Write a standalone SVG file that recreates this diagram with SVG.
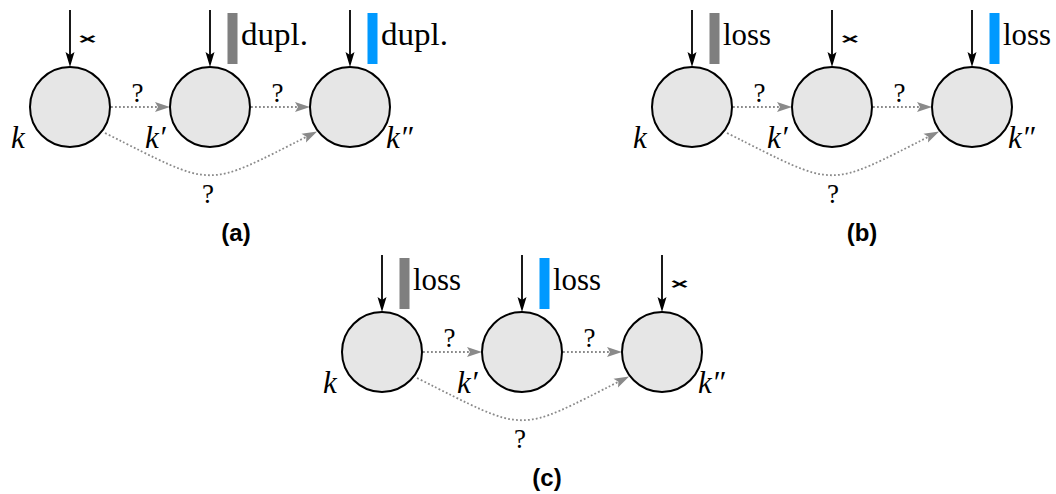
<svg xmlns="http://www.w3.org/2000/svg" width="1056" height="494" viewBox="0 0 1056 494">
  <style>
    .state circle { fill: #e6e6e6; stroke: #000; stroke-width: 2; }
    .name { font-family: "Liberation Serif", serif; font-style: italic; font-size: 31px; }
    .tag { font-family: "Liberation Serif", serif; font-size: 31px; }
    .q { font-family: "Liberation Serif", serif; font-size: 27px; text-anchor: middle; }
    .none { font-family: "Liberation Sans", Arial, sans-serif; font-weight: bold; font-size: 21px; text-anchor: middle; }
    .cap { font-family: "Liberation Sans", Arial, sans-serif; font-weight: bold; font-size: 24px; text-anchor: middle; }
    .in { stroke: #000; stroke-width: 1.8; fill: none; marker-end: url(#head-black); }
    .maybe { stroke: #8a8a8a; stroke-width: 1.8; stroke-dasharray: 1.8 2.2; fill: none; marker-end: url(#head-gray); }
    .bar-gray { fill: #7f7f7f; }
    .bar-blue { fill: #0099ff; }
  </style>
  <defs>
    <marker id="head-black" markerUnits="userSpaceOnUse" viewBox="-8 -6 17 12" refX="0" refY="0" markerWidth="17" markerHeight="12" orient="auto">
      <path d="M-7,-4.5 L8,0 L-7,4.5 L-4,0 Z" fill="#000"/>
    </marker>
    <marker id="head-gray" markerUnits="userSpaceOnUse" viewBox="-8 -6 17 12" refX="0" refY="0" markerWidth="17" markerHeight="12" orient="auto">
      <path d="M-7,-5 L8,0 L-7,5 L-4,0 Z" fill="#8a8a8a"/>
    </marker>
  </defs>

  <!-- (a): duplication on k' and k'' -->
  <g id="panel-a">
    <g id="a-connectors">
      <path class="maybe" d="M111,107 L162,107"/>
      <path class="maybe" d="M251,107 L302,107"/>
      <path class="maybe" d="M105,133 C217,189 203,189 310,135"/>
      <text class="q" x="137.5" y="102">?</text>
      <text class="q" x="277.5" y="102">?</text>
      <text class="q" x="208" y="203">?</text>
    </g>
    <g id="a-k" class="state">
      <path class="in" d="M70,10 L70,59"/>
      <text class="none" transform="translate(87.5,43.5) scale(1.5,0.72)">×</text>
      <circle cx="70" cy="107" r="40"/>
      <text class="name" x="11" y="148">k</text>
    </g>
    <g id="a-k1" class="state">
      <path class="in" d="M210,10 L210,59"/>
      <rect class="bar-gray" x="227.5" y="13" width="10" height="51"/>
      <text class="tag" x="241" y="45" textLength="67" lengthAdjust="spacingAndGlyphs">dupl.</text>
      <circle cx="210" cy="107" r="40"/>
      <text class="name" x="145" y="148">k′</text>
    </g>
    <g id="a-k2" class="state">
      <path class="in" d="M350,10 L350,59"/>
      <rect class="bar-blue" x="367.5" y="13" width="10" height="51"/>
      <text class="tag" x="381" y="45" textLength="67" lengthAdjust="spacingAndGlyphs">dupl.</text>
      <circle cx="350" cy="107" r="40"/>
      <text class="name" x="386" y="148">k″</text>
    </g>
    <text class="cap" x="236" y="241">(a)</text>
  </g>

  <!-- (b): loss on k and k'' -->
  <g id="panel-b" transform="translate(622,0)">
    <g id="b-connectors">
      <path class="maybe" d="M111,107 L162,107"/>
      <path class="maybe" d="M251,107 L302,107"/>
      <path class="maybe" d="M105,133 C217,189 203,189 310,135"/>
      <text class="q" x="137.5" y="102">?</text>
      <text class="q" x="277.5" y="102">?</text>
      <text class="q" x="211" y="203">?</text>
    </g>
    <g id="b-k" class="state">
      <path class="in" d="M70,10 L70,59"/>
      <rect class="bar-gray" x="87.5" y="13" width="10" height="51"/>
      <text class="tag" x="101" y="45" textLength="48" lengthAdjust="spacingAndGlyphs">loss</text>
      <circle cx="70" cy="107" r="40"/>
      <text class="name" x="11" y="148">k</text>
    </g>
    <g id="b-k1" class="state">
      <path class="in" d="M210,10 L210,59"/>
      <text class="none" transform="translate(228,43.5) scale(1.5,0.72)">×</text>
      <circle cx="210" cy="107" r="40"/>
      <text class="name" x="145" y="148">k′</text>
    </g>
    <g id="b-k2" class="state">
      <path class="in" d="M350,10 L350,59"/>
      <rect class="bar-blue" x="367.5" y="13" width="10" height="51"/>
      <text class="tag" x="381" y="45" textLength="48" lengthAdjust="spacingAndGlyphs">loss</text>
      <circle cx="350" cy="107" r="40"/>
      <text class="name" x="386" y="148">k″</text>
    </g>
    <text class="cap" x="240" y="241">(b)</text>
  </g>

  <!-- (c): loss on k and k' -->
  <g id="panel-c" transform="translate(312,245)">
    <g id="c-connectors">
      <path class="maybe" d="M111,107 L162,107"/>
      <path class="maybe" d="M251,107 L302,107"/>
      <path class="maybe" d="M105,133 C217,189 203,189 310,135"/>
      <text class="q" x="137.5" y="102">?</text>
      <text class="q" x="277.5" y="102">?</text>
      <text class="q" x="208" y="203">?</text>
    </g>
    <g id="c-k" class="state">
      <path class="in" d="M70,10 L70,59"/>
      <rect class="bar-gray" x="87.5" y="13" width="10" height="51"/>
      <text class="tag" x="101" y="45" textLength="48" lengthAdjust="spacingAndGlyphs">loss</text>
      <circle cx="70" cy="107" r="40"/>
      <text class="name" x="11" y="148">k</text>
    </g>
    <g id="c-k1" class="state">
      <path class="in" d="M210,10 L210,59"/>
      <rect class="bar-blue" x="227.5" y="13" width="10" height="51"/>
      <text class="tag" x="241" y="45" textLength="48" lengthAdjust="spacingAndGlyphs">loss</text>
      <circle cx="210" cy="107" r="40"/>
      <text class="name" x="145" y="148">k′</text>
    </g>
    <g id="c-k2" class="state">
      <path class="in" d="M350,10 L350,59"/>
      <text class="none" transform="translate(367.5,43.5) scale(1.5,0.72)">×</text>
      <circle cx="350" cy="107" r="40"/>
      <text class="name" x="386" y="148">k″</text>
    </g>
    <text class="cap" x="235" y="241">(c)</text>
  </g>
</svg>
